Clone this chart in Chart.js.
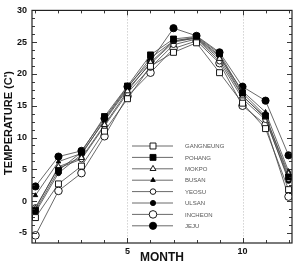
<!DOCTYPE html>
<html>
<head>
<meta charset="utf-8">
<script src="https://cdn.jsdelivr.net/npm/chart.js@4/dist/chart.umd.min.js"></script>
<style>
  html, body { margin: 0; padding: 0; background: #fff; }
  #wrap { width: 298px; height: 263px; position: relative; }
</style>
</head>
<body>
<div id="wrap"><canvas id="myChart"></canvas></div>
<script>
'use strict';

// data (monthly mean temperature)
let months = [1, 2, 3, 4, 5, 6, 7, 8, 9, 10, 11, 12];
let stationNames = ['GANGNEUNG', 'POHANG', 'MOKPO', 'BUSAN', 'YEOSU', 'ULSAN', 'INCHEON', 'JEJU'];
let gangneung = [-2.6, 2.7, 5.5, 11.0, 16.1, 21.2, 23.4, 24.9, 20.2, 15.4, 11.4, 1.8];
let pohang    = [-1.5, 4.8, 7.7, 13.3, 18.1, 23.0, 25.5, 25.9, 23.2, 17.0, 13.4, 3.8];
let mokpo     = [-1.2, 5.4, 6.8, 12.0, 17.3, 21.8, 25.2, 25.6, 22.4, 16.5, 13.2, 4.3];
let busan     = [0.9, 6.2, 7.5, 12.6, 17.6, 21.6, 25.0, 25.7, 22.7, 17.3, 14.0, 4.7];
let yeosu     = [-1.0, 5.2, 6.6, 11.8, 17.0, 21.0, 24.6, 25.5, 22.0, 16.1, 12.8, 3.5];
let ulsan     = [-1.8, 4.4, 7.3, 12.8, 17.8, 22.5, 25.2, 25.8, 22.9, 16.6, 13.0, 3.2];
let incheon   = [-5.4, 1.6, 4.4, 10.2, 16.5, 20.2, 24.0, 25.2, 21.7, 15.0, 12.0, 0.7];
let jeju      = [2.3, 7.0, 7.9, 13.0, 18.0, 22.0, 27.2, 26.0, 23.4, 18.0, 15.8, 7.2];

let yTickValues = [-5, 0, 5, 10, 15, 20, 25, 30];
let xTickValues = [5, 10];

// marker style per station
let markers = [
  { shape: 'rect', r: 4.2, filled: false },
  { shape: 'rect', r: 4.2, filled: true },
  { shape: 'triangle', r: 3.4, filled: false },
  { shape: 'triangle', r: 2.6, filled: true },
  { shape: 'circle', r: 2.8, filled: false },
  { shape: 'circle', r: 2.6, filled: true },
  { shape: 'circle', r: 3.8, filled: false },
  { shape: 'circle', r: 3.6, filled: true }
];

let allSeries = [gangneung, pohang, mokpo, busan, yeosu, ulsan, incheon, jeju];

let datasets = [];
for (let i = 0; i < allSeries.length; i++) {
  let m = markers[i];
  datasets.push({
    label: stationNames[i],
    data: months.map((mo, j) => ({ x: mo, y: allSeries[i][j] })),
    borderColor: '#444',
    borderWidth: 0.8,
    pointStyle: m.shape,
    pointRadius: m.r,
    pointBackgroundColor: m.filled ? '#000' : '#fff',
    pointBorderColor: '#000',
    pointBorderWidth: 0.9,
    tension: 0
  });
}

////////////////////////// frame, inner ticks, titles, legend //////////////////////////
let decorations = {
  id: 'decorations',
  beforeDatasetsDraw(chart) {
    let ctx = chart.ctx;
    let xs = chart.scales.x;
    let a = chart.chartArea;
    ctx.save();
    // dotted verticals at 5 and 10
    ctx.strokeStyle = '#aaa';
    ctx.lineWidth = 0.8;
    ctx.setLineDash([1, 2]);
    xTickValues.forEach(v => {
      let px = Math.round(xs.getPixelForValue(v)) + 0.5;
      ctx.beginPath();
      ctx.moveTo(px, a.top);
      ctx.lineTo(px, a.bottom);
      ctx.stroke();
    });
    ctx.restore();
  },
  afterDraw(chart) {
    let ctx = chart.ctx;
    let xs = chart.scales.x, ys = chart.scales.y;
    let a = chart.chartArea;
    ctx.save();
    ctx.strokeStyle = '#222';
    ctx.lineWidth = 1.2;
    ctx.strokeRect(a.left, a.top, a.right - a.left, a.bottom - a.top);

    // x ticks at every month, top and bottom, pointing in
    ctx.lineWidth = 0.9;
    months.forEach(mo => {
      let px = Math.round(xs.getPixelForValue(mo)) + 0.5;
      let len = xTickValues.indexOf(mo) >= 0 ? 5 : 3;
      ctx.beginPath();
      ctx.moveTo(px, a.bottom); ctx.lineTo(px, a.bottom - len);
      ctx.moveTo(px, a.top); ctx.lineTo(px, a.top + len);
      ctx.stroke();
    });
    // y ticks: major every 5, minor every 1.25
    for (let v = -5; v <= 30; v += 1.25) {
      let py = Math.round(ys.getPixelForValue(v)) + 0.5;
      let len = v % 5 === 0 ? 5 : 3;
      ctx.beginPath();
      ctx.moveTo(a.left, py); ctx.lineTo(a.left + len, py);
      ctx.moveTo(a.right, py); ctx.lineTo(a.right - len, py);
      ctx.stroke();
    }

    // axis titles
    ctx.fillStyle = '#111';
    ctx.font = 'bold 11px "Liberation Sans", Arial, sans-serif';
    ctx.textAlign = 'center';
    ctx.textBaseline = 'middle';
    ctx.save();
    ctx.translate(9, 123);
    ctx.rotate(-Math.PI / 2);
    ctx.fillText("TEMPERATURE (C')", 0, 0);
    ctx.restore();
    ctx.font = 'bold 12px "Liberation Sans", Arial, sans-serif';
    ctx.fillText('MONTH', (a.left + a.right) / 2, 258);

    // legend inside the plot
    let lx0 = 132, lx1 = 173, mx = 153, tx = 185, ly0 = 146, step = 11.4;
    ctx.font = '6px "Liberation Sans", Arial, sans-serif';
    ctx.textAlign = 'left';
    for (let i = 0; i < datasets.length; i++) {
      let y = ly0 + i * step;
      let d = datasets[i];
      ctx.strokeStyle = '#444';
      ctx.lineWidth = 0.8;
      ctx.beginPath();
      ctx.moveTo(lx0, y); ctx.lineTo(lx1, y);
      ctx.stroke();
      ctx.fillStyle = d.pointBackgroundColor;
      ctx.strokeStyle = d.pointBorderColor;
      ctx.lineWidth = d.pointBorderWidth;
      Chart.helpers.drawPoint(ctx, { pointStyle: d.pointStyle, radius: d.pointRadius, rotation: 0, borderWidth: d.pointBorderWidth }, mx, y);
      ctx.fillStyle = '#555';
      ctx.fillText(d.label, tx, y + 0.5);
    }
    ctx.restore();
  }
};

let ctx = document.getElementById('myChart');
let myChart = new Chart(ctx, {
  type: 'line',
  data: { datasets: datasets },
  options: {
    responsive: true,
    maintainAspectRatio: false,
    animation: false,
    layout: { padding: { left: 0, top: 5, right: 6, bottom: 0 } },
    plugins: { legend: { display: false }, tooltip: { enabled: false } },
    scales: {
      x: {
        type: 'linear',
        min: 0.85,
        max: 12.15,
        afterBuildTicks: s => { s.ticks = xTickValues.map(v => ({ value: v })); },
        afterFit: s => { s.height = 20; },
        grid: { display: false, drawTicks: false },
        border: { display: false },
        ticks: {
          padding: 3,
          color: '#111',
          font: { family: '"Liberation Sans", Arial, sans-serif', size: 9, weight: 'bold' }
        }
      },
      y: {
        type: 'linear',
        min: -6.6,
        max: 30,
        afterBuildTicks: s => { s.ticks = yTickValues.map(v => ({ value: v })); },
        afterFit: s => { s.width = 32; },
        grid: { display: false, drawTicks: false },
        border: { display: false },
        ticks: {
          padding: 5,
          color: '#111',
          font: { family: '"Liberation Sans", Arial, sans-serif', size: 9, weight: 'bold' }
        }
      }
    }
  },
  plugins: [decorations]
});
</script>
</body>
</html>
